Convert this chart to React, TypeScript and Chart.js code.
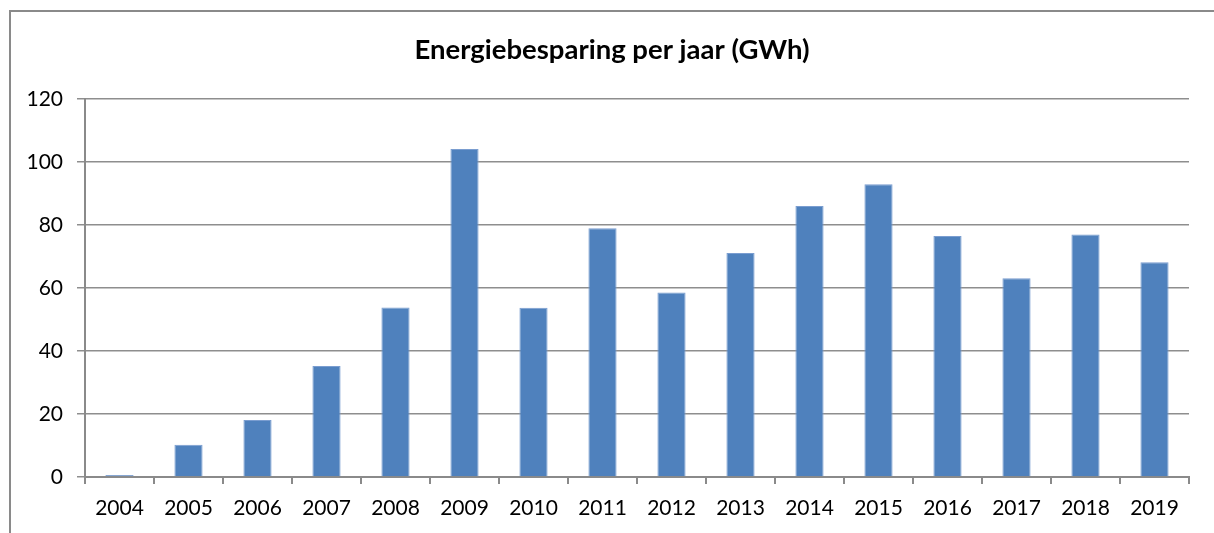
import React, { useEffect, useRef } from "react";
import { Chart, registerables } from "chart.js";

Chart.register(...registerables);

const years = ["2004", "2005", "2006", "2007", "2008", "2009", "2010", "2011", "2012", "2013", "2014", "2015", "2016", "2017", "2018", "2019"];
const savings = [0.6, 10.2, 18.1, 35.2, 53.8, 104.1, 53.7, 79.0, 58.6, 71.1, 86.0, 92.9, 76.5, 63.1, 77.0, 68.2];
const titleText = "Energiebesparing per jaar (GWh)";
const yMax = 120;
const yStep = 20;

const frame = {
  id: "frame",
  beforeDraw(chart: any) {
    const ctx = chart.ctx;
    ctx.save();
    ctx.fillStyle = "#ffffff";
    ctx.fillRect(0, 0, chart.width, chart.height);
    ctx.strokeStyle = "#8a8a8a";
    ctx.lineWidth = 2;
    ctx.beginPath();
    ctx.moveTo(10, chart.height + 5);
    ctx.lineTo(10, 11);
    ctx.lineTo(chart.width + 5, 11);
    ctx.stroke();
    ctx.restore();
  },
  afterDraw(chart: any) {
    const ctx = chart.ctx;
    ctx.save();
    ctx.fillStyle = "#000";
    ctx.font = "bold 27.5px Lato";
    ctx.textAlign = "center";
    ctx.textBaseline = "middle";
    ctx.fillText(titleText, 612, 50);
    ctx.restore();
  },
};

export default function App() {
  const ref = useRef<HTMLCanvasElement>(null);
  useEffect(() => {
    const chart = new Chart(ref.current!, {
      type: "bar",
      data: {
        labels: years,
        datasets: [
          {
            data: savings,
            backgroundColor: "#4f81bd",
            borderColor: "#7a9dd0",
            borderWidth: 1,
            barPercentage: 0.8,
            categoryPercentage: 0.51,
          },
        ],
      },
      options: {
        animation: false,
        responsive: false,
        layout: { padding: { left: 10, right: 25, top: 99, bottom: 0 } },
        plugins: {
          legend: { display: false },
          tooltip: { enabled: false },
          title: { display: false },
        },
        scales: {
          x: {
            offset: true,
            grid: {
              offset: true,
              drawOnChartArea: false,
              drawTicks: true,
              tickLength: 7,
              color: "#8a8a8a",
              lineWidth: 2,
            },
            border: { display: true, color: "#8a8a8a", width: 2 },
            ticks: {
              color: "#000",
              font: { family: "Lato", size: 21 },
              padding: 12,
              maxRotation: 0,
              autoSkip: false,
            },
            afterFit: (s: any) => {
              s.height = 56;
            },
          },
          y: {
            min: 0,
            max: yMax,
            grid: {
              color: "#8e8e8e",
              lineWidth: 1.5,
              tickLength: 8,
            },
            border: { display: true, color: "#8a8a8a", width: 2 },
            ticks: {
              stepSize: yStep,
              color: "#000",
              font: { family: "Lato", size: 21 },
              padding: 14,
            },
            afterFit: (s: any) => {
              s.width = 75;
            },
          },
        },
      },
      plugins: [frame],
    });
    return () => chart.destroy();
  }, []);
  return (
    <div style={{ position: "fixed", left: 0, top: 0, width: 1214, height: 533 }}>
      <canvas ref={ref} width={1214} height={533} style={{ display: "block" }} />
    </div>
  );
}
